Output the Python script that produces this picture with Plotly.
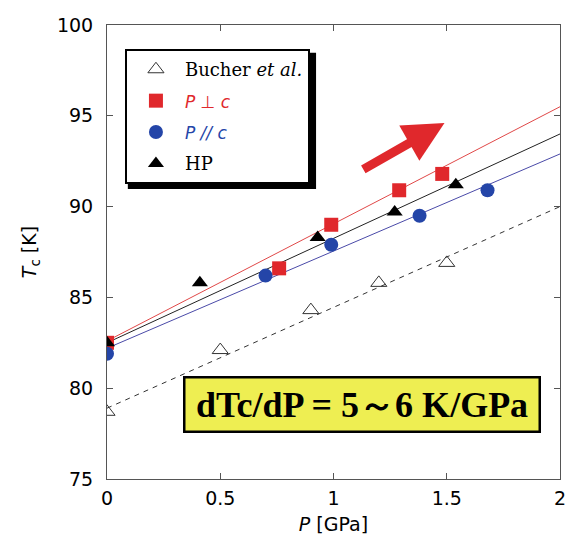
import plotly.graph_objects as go

# ---- data ----
bucher_P = [0, 0.5, 0.9, 1.2, 1.5]
bucher_T = [78.7, 82.1, 84.3, 85.8, 86.9]

perp_P = [0, 0.76, 0.99, 1.29, 1.48]
perp_T = [82.5, 86.6, 89.0, 90.9, 91.8]

para_P = [0, 0.70, 0.99, 1.38, 1.68]
para_T = [81.9, 86.2, 87.9, 89.5, 90.9]

hp_P = [0, 0.41, 0.93, 1.27, 1.54]
hp_T = [82.5, 85.8, 88.3, 89.7, 91.2]

# fitted straight lines (end values read at P = 0 and P = 2)
fit_P = [0, 2]
fit_bucher = [78.9, 90.0]
fit_perp = [82.6, 95.5]
fit_para = [82.2, 92.9]
fit_hp = [82.5, 94.0]

x_ticks = [0, 0.5, 1, 1.5, 2]
x_tick_text = ["0", "0.5", "1", "1.5", "2"]
y_ticks = [75, 80, 85, 90, 95, 100]

RED = "#e0282c"
BLUE = "#2445a8"
SANS = "DejaVu Sans, Arial, Liberation Sans"

fig = go.Figure()

# fit lines
fig.add_trace(go.Scatter(x=fit_P, y=fit_bucher, mode="lines", showlegend=False,
                         line=dict(color="#333333", width=1, dash="5px,5px"), hoverinfo="skip"))
fig.add_trace(go.Scatter(x=fit_P, y=fit_para, mode="lines", showlegend=False,
                         line=dict(color="#4a4aa8", width=1), hoverinfo="skip"))
fig.add_trace(go.Scatter(x=fit_P, y=fit_hp, mode="lines", showlegend=False,
                         line=dict(color="#222222", width=1), hoverinfo="skip"))
fig.add_trace(go.Scatter(x=fit_P, y=fit_perp, mode="lines", showlegend=False,
                         line=dict(color="#e04848", width=1), hoverinfo="skip"))

# data points
fig.add_trace(go.Scatter(x=bucher_P, y=bucher_T, mode="markers", legendgroup="a",
                         name="Bucher <i>et al.</i>",
                         marker=dict(symbol="triangle-up-open", size=14, color="#333333",
                                     line=dict(width=1, color="#333333"))))
fig.add_trace(go.Scatter(x=perp_P, y=perp_T, mode="markers", legendgroup="b",
                         name='<span style="font-family:DejaVu Sans;font-size:17px;color:%s"><i>P</i> ⊥ <i>c</i></span>' % RED,
                         marker=dict(symbol="square", size=14, color=RED)))
fig.add_trace(go.Scatter(x=para_P, y=para_T, mode="markers", legendgroup="c",
                         name='<span style="font-family:DejaVu Sans;font-size:17px;color:%s"><i>P // c</i></span>' % BLUE,
                         marker=dict(symbol="circle", size=14, color=BLUE)))
fig.add_trace(go.Scatter(x=hp_P, y=hp_T, mode="markers", legendgroup="d",
                         name="HP",
                         marker=dict(symbol="triangle-up", size=14, color="black")))

axis_common = dict(showline=True, linecolor="#555555", linewidth=1, mirror="ticks",
                   ticks="inside", ticklen=6, tickcolor="#555555", showgrid=False,
                   zeroline=False, tickfont=dict(family=SANS, size=19, color="black"))

fig.update_xaxes(range=[0, 2], tickvals=x_ticks, ticktext=x_tick_text, ticklabelstandoff=2,
                 title=dict(text="<i>P</i> [GPa]", font=dict(family=SANS, size=19, color="black"),
                            standoff=9),
                 **axis_common)
fig.update_yaxes(range=[75, 100], tickvals=y_ticks, ticklabelstandoff=9,
                 title=dict(text="<i>T</i><sub>c</sub> [K]", font=dict(family=SANS, size=19, color="black"),
                            standoff=15),
                 **axis_common)

# red arrow
fig.add_annotation(x=1.49, y=94.6, ax=1.125, ay=92.0, xref="x", yref="y", axref="x", ayref="y",
                   showarrow=True, arrowhead=2, arrowsize=0.9, arrowwidth=9, arrowcolor=RED, text="")

# yellow box with slope text
fig.add_annotation(x=0.334, y=77.55, xref="x", yref="y", xanchor="left", yanchor="bottom",
                   text="<b>dTc/dP = 5～6 K/GPa</b>", showarrow=False,
                   font=dict(family="Liberation Serif", size=36, color="black"),
                   bgcolor="#eeee52", bordercolor="black", borderwidth=2.5,
                   width=351, height=50, align="center")

# legend shadow
fig.add_shape(type="rect", xref="paper", yref="paper", x0=0.046, x1=0.4615, y0=0.639, y1=0.939,
              fillcolor="black", line=dict(width=0), layer="above")

fig.update_layout(
    width=578, height=543,
    margin=dict(l=107, r=16, t=25, b=64),
    paper_bgcolor="white", plot_bgcolor="white",
    legend=dict(x=0.0396, y=0.947, xanchor="left", yanchor="top",
                bgcolor="white", bordercolor="black", borderwidth=2,
                font=dict(family="DejaVu Serif", size=18, color="black"),
                tracegroupgap=5, itemwidth=48),
)

fig.write_html("out.html", config={"displayModeBar": False},
               post_script="document.body.style.margin='0px';document.body.style.overflow='hidden';")
